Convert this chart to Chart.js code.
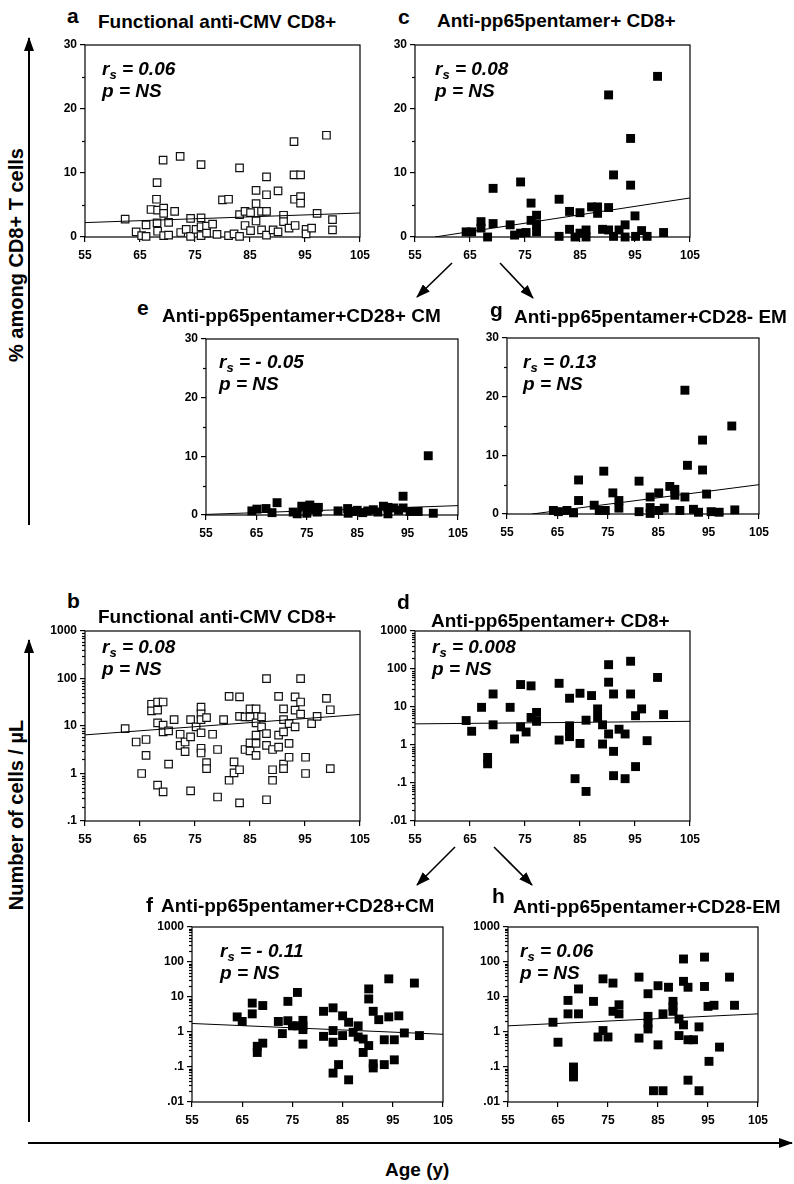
<!DOCTYPE html>
<html lang="en">
<head>
<meta charset="UTF-8">
<title>CMV-specific CD8+ T cells and age</title>
<script src="https://cdn.jsdelivr.net/npm/chart.js"></script>
<style>
  body { margin: 0; background: #fff; }
  #fig { position: relative; width: 794px; height: 1184px; overflow: hidden;
         font-family: "Liberation Sans", Arial, sans-serif; font-weight: bold; color: #000; }
  #fig canvas { position: absolute; }
  .lbl { position: absolute; white-space: nowrap; line-height: 1; }
  .ytitle { position: absolute; white-space: nowrap; line-height: 1; font-size: 20px;
            transform: translate(-50%, -50%) rotate(-90deg); }
  .sub { font-size: 13px; position: relative; top: 4px; }
</style>
</head>
<body>
<div id="fig">
  <svg width="794" height="1184" style="position:absolute;left:0;top:0">
    <defs>
      <marker id="head" markerWidth="14" markerHeight="10" refX="13" refY="5" orient="auto" markerUnits="userSpaceOnUse">
        <path d="M0,0 L14,5 L0,10 z" fill="#000"/>
      </marker>
    </defs>
    <g stroke="#000" fill="none">
      <!-- y arrows -->
      <line x1="29" y1="525" x2="29" y2="38" stroke-width="2" marker-end="url(#head)"/>
      <line x1="29" y1="1122" x2="29" y2="640" stroke-width="2" marker-end="url(#head)"/>
      <!-- x arrow -->
      <line x1="28" y1="1143" x2="792" y2="1143" stroke-width="2" marker-end="url(#head)"/>
      <!-- panel links -->
      <line x1="452" y1="263" x2="417" y2="297" stroke-width="1.6" marker-end="url(#head)"/>
      <line x1="500" y1="263" x2="533" y2="298" stroke-width="1.6" marker-end="url(#head)"/>
      <line x1="455" y1="847" x2="417" y2="885" stroke-width="1.6" marker-end="url(#head)"/>
      <line x1="494" y1="847" x2="532" y2="885" stroke-width="1.6" marker-end="url(#head)"/>
    </g>
  </svg>
  <div class="ytitle" style="left:16px;top:255px">% among CD8+ T cells</div>
  <div class="ytitle" style="left:16px;top:815px">Number of cells / &micro;L</div>
  <div class="lbl" id="agetitle" style="font-size:19px">Age (y)</div>
</div>

<script>
// ---- data ----
const ageTicks = [55, 65, 75, 85, 95, 105];
const pctTicks = [0, 10, 20, 30];
const pctMinor = [5, 15, 25];
const cnt4Ticks = [0.1, 1, 10, 100, 1000];
const cnt4Labels = ['.1', '1', '10', '100', '1000'];
const cnt5Ticks = [0.01, 0.1, 1, 10, 100, 1000];
const cnt5Labels = ['.01', '.1', '1', '10', '100', '1000'];

// a: functional anti-CMV CD8+ (% of CD8+)
const aAge = [62.3,64.3,65.3,66.1,66.1,67.0,68.0,68.1,68.1,68.2,68.2,69.2,69.3,69.3,69.3,70.2,70.2,71.3,72.3,72.4,73.4,74.2,74.2,75.2,76.1,76.1,76.1,76.1,77.1,77.1,78.2,79.0,80.0,81.1,81.1,82.1,83.1,83.1,83.1,84.1,84.1,85.1,85.1,86.1,86.1,86.1,87.1,87.1,88.0,88.0,88.0,88.0,89.2,90.1,90.1,91.1,91.1,92.1,93.0,93.0,94.2,93.1,94.2,94.2,93.2,95.2,95.2,96.2,97.2,98.9,100.0,100.0];
const aPct = [2.8,0.8,0.2,1.9,0.1,4.3,5.9,8.5,2.2,4.2,0.9,12.0,4.5,3.7,0.2,2.3,0.3,4.0,12.6,0.7,1.2,2.9,0.1,1.2,11.3,3.0,1.6,0.2,1.7,0.6,2.0,0.4,5.8,5.9,0.2,0.5,10.8,3.5,0.1,4.0,1.8,3.8,1.0,7.3,5.2,2.5,4.0,1.1,9.4,6.6,4.0,0.3,1.1,7.2,0.8,3.4,2.4,1.4,14.9,9.7,9.7,5.9,6.3,5.3,1.8,1.2,0.5,1.4,3.7,15.9,2.7,1.1];
const aFitAge = [55, 105], aFitPct = [2.25, 3.75];

// c: anti-pp65 pentamer+ CD8+ (%)
const cAge = [64.3,65.3,67.0,67.0,68.2,69.2,69.2,72.3,73.1,74.2,74.2,75.2,76.1,76.1,77.1,77.1,77.1,81.2,81.2,83.1,83.1,84.1,85.0,85.0,86.1,86.1,87.1,88.2,88.2,89.1,90.2,90.2,90.2,91.1,91.1,92.1,93.2,93.2,94.2,94.2,95.0,95.1,96.2,97.2,99.1,100.2];
const cPct = [0.8,0.8,2.4,1.4,0,7.6,2.1,1.9,0.3,8.6,0.6,0.7,5.3,2.6,3.4,2.0,0.8,5.9,0.1,4.0,1.2,0,3.8,0.6,1.1,0,4.7,4.7,3.7,1.2,22.2,4.6,1.1,9.7,0.1,1.1,1.9,0,15.4,8.1,3.3,0.1,1.0,0.1,25.1,0.7];
const cFitAge = [58.6, 105], cFitPct = [0, 6.1];

// e: pentamer+ CD28+ CM (%)
const eAge = [64.1,65.1,66.9,68.1,69.1,72.3,73.1,74.0,75.0,75.6,76.1,77.3,77.1,81.2,83.1,83.2,84.1,85.0,86.1,87.1,88.2,89.1,90.2,91.1,91.1,92.2,93.2,94.1,94.1,95.5,97.1,99.1,100.1];
const ePct = [0.7,1.0,1.1,0.4,2.1,0.5,0.2,1.5,0.3,1.7,0.9,1.3,0.5,0.7,1.1,0.3,0.6,0.8,0.4,0.7,0.9,0.5,1.5,1.3,0.2,1.2,0.8,3.2,1.2,0.6,0.6,10.1,0.3];
const eFitAge = [55, 105], eFitPct = [0.1, 1.6];

// g: pentamer+ CD28- EM (%)
const gAge = [64.2,65.2,66.9,68.2,69.2,69.2,72.3,73.3,74.2,74.5,76.0,77.2,77.2,81.2,81.2,83.4,83.4,83.4,85.1,85.1,86.2,87.3,88.3,88.3,89.3,90.3,90.3,90.8,92.0,93.0,93.8,93.8,94.6,95.5,97.1,99.6,100.2];
const gPct = [0.6,0.4,0.6,0.2,5.8,2.3,1.5,0.6,7.3,0.6,3.6,2.3,1.0,5.6,0.4,2.9,1.1,0.1,3.6,0.6,1.0,4.7,4.2,3.2,0.6,21.1,2.9,8.3,0.8,0.3,12.6,7.5,3.4,0.4,0.3,15.0,0.7];
const gFitAge = [60, 105], gFitPct = [0, 5.0];

// b: functional anti-CMV CD8+ (cells/uL)
const bAge = [62.3,64.3,65.3,66.1,66.1,67.1,67.1,68.2,68.2,68.2,68.2,69.2,69.2,69.2,69.2,70.2,70.2,71.2,72.3,72.3,73.2,73.2,74.2,74.2,74.2,75.2,76.1,76.1,76.1,76.1,76.1,76.1,77.1,77.1,77.1,78.2,79.1,79.1,80.2,81.2,81.2,82.1,82.1,83.1,83.1,83.1,83.1,84.1,84.1,85.0,85.0,85.0,85.0,86.1,86.1,86.1,86.1,86.1,87.1,87.1,88.0,88.0,88.0,88.0,89.1,89.1,89.1,90.2,90.2,90.2,91.1,91.1,91.1,91.1,91.1,92.1,92.1,92.1,93.2,93.2,93.2,94.2,94.2,94.2,95.1,95.1,96.2,97.2,98.9,99.6,99.6];
const bCount = [8.8,4.6,1.0,5.2,2.4,28.7,20.8,32,21.5,11.6,0.57,32,10.4,7.5,0.41,7.9,1.57,13.6,6.7,3.9,4.6,2.9,13.6,5.9,0.43,9.6,25,18,13.6,7.2,3.4,2.7,15,1.7,1.27,6.7,3.2,0.32,13.6,42,0.72,1.76,1.03,41,16,1.2,0.24,15.5,3.2,23,15.5,4.4,3.0,23,11.6,6.4,4.3,2.4,15.5,9.6,99,6.9,3.9,0.28,3.2,1.2,0.72,42,6.4,3.6,23,13.6,7.5,1.57,1.27,11.2,4.3,2.2,41,21.5,9.6,99,32,17.7,2.2,1.0,11.2,16,38,22,1.27];
const bFitAge = [55, 105], bFitCount = [6.5, 17.5];

// d: pentamer+ CD8+ (cells/uL)
const dAge = [64.3,65.3,67.1,68.2,68.2,69.2,69.2,72.3,73.1,74.2,74.2,75.2,76.1,76.1,77.1,77.1,81.2,81.2,83.1,83.1,83.1,83.1,84.1,85.0,85.0,86.1,86.1,87.1,88.2,88.2,89.1,89.1,90.2,90.2,90.2,91.1,91.1,91.1,92.1,93.2,93.2,94.2,94.2,95.1,95.1,96.2,97.2,99.1,100.2];
const dCount = [4.4,2.3,9.8,0.47,0.32,22,3.4,9.8,1.44,39,3.0,2.2,36,5.3,7.2,4.2,42,1.35,17,3.2,2.3,1.66,0.13,23,1.1,4.5,0.06,20,8.9,5.3,3.4,1.06,130,45,1.95,22,0.68,0.156,2.6,1.95,0.13,160,22,5.9,0.27,8.9,1.3,60,6.3];
const dFitAge = [55, 105], dFitCount = [3.6, 4.2];

// f: pentamer+ CD28+ CM (cells/uL)
const fAge = [64,65,67,67,68,68,69.1,69.1,72.2,73,74.1,74.1,75,76,76,77.1,77.1,77.1,77.1,81.2,81.2,83.1,83.1,83.1,83.1,84.2,85,85,86.2,86.2,87.1,88.1,88.1,89.1,89.1,90.2,90.2,90.2,91.1,91.1,91.1,92.2,93.3,93.3,94.2,94.2,95.3,95.3,96.2,97.3,99.3,100.3];
const fCount = [2.7,2.0,6.7,3.3,0.39,0.26,5.7,0.48,2.0,0.9,7.5,2.1,1.5,13.5,1.5,2.15,1.5,1.17,0.45,3.9,0.75,4.9,1.1,0.51,0.067,0.117,2.9,0.79,1.9,0.043,0.98,1.5,0.72,0.63,0.26,17,8.8,0.41,3.9,0.124,0.094,2.25,0.6,0.117,33,2.7,0.6,0.16,2.9,0.94,25,0.79];
const fFitAge = [55, 105], fFitCount = [1.75, 0.86];

// h: pentamer+ CD28- EM (cells/uL)
const hAge = [64,65,67,67,68.1,68.1,68.1,69.1,69.1,72.1,73,74,74,75,76,76,77.2,77.2,81.2,81.2,83,83,83,83,84.1,85,85,86,86,87.1,88,88,88,89.2,89.2,90.1,90.1,90.1,91,91,91,92.1,93.2,93.2,94.3,94.3,95,95.2,96.2,97.3,99.3,100.3];
const hCount = [1.9,0.51,8.0,3.3,0.1,0.07,0.052,17,3.3,7.5,0.72,33,1.1,0.72,25,3.9,6.0,3.3,37,0.67,12.4,2.8,1.8,1.22,0.021,21,0.43,0.021,3.3,19,7.5,5.4,3.9,2.35,0.79,122,28,1.6,19,0.6,0.042,0.6,1.4,0.021,138,20,5.4,0.145,5.8,0.37,37,5.8];
const hFitAge = [55, 105], hFitCount = [1.5, 3.3];

// ---- drawing ----
const fig = document.getElementById('fig');
const tickFont = { family: 'Liberation Sans', size: 12, weight: 'bold' };
const PAD_L = 45, PAD_T = 12, PAD_R = 25, PAD_B = 28;

const frame = {
  id: 'frame',
  beforeDatasetsDraw(chart, args, opts) {
    const { ctx, chartArea: a } = chart;
    const y = chart.scales.y;
    ctx.save();
    ctx.strokeStyle = '#000';
    ctx.lineWidth = 1.2;
    ctx.strokeRect(a.left, a.top, a.right - a.left, a.bottom - a.top);
    (opts.minor || []).forEach(v => {
      const p = Math.round(y.getPixelForValue(v)) + 0.5;
      ctx.beginPath();
      ctx.moveTo(a.left - 3, p);
      ctx.lineTo(a.left, p);
      ctx.stroke();
    });
    ctx.restore();
  }
};

function logMinor(min, max) {
  const out = [];
  for (let d = min; d < max; d *= 10)
    for (let k = 2; k <= 9; k++) out.push(d * k);
  return out;
}

function panel(box, ages, vals, fitX, fitY, kind) {
  const [l, t, r, b] = box;
  const w = r - l + PAD_L + PAD_R, h = b - t + PAD_T + PAD_B;
  const cv = document.createElement('canvas');
  cv.width = w; cv.height = h;
  cv.style.left = (l - PAD_L) + 'px';
  cv.style.top = (t - PAD_T) + 'px';
  cv.style.width = w + 'px';
  cv.style.height = h + 'px';
  fig.appendChild(cv);

  const open = kind.open;
  let yScale, minor;
  if (kind.log) {
    const ticks = kind.log === 5 ? cnt5Ticks : cnt4Ticks;
    const labels = kind.log === 5 ? cnt5Labels : cnt4Labels;
    minor = logMinor(ticks[0], ticks[ticks.length - 1]);
    yScale = {
      type: 'logarithmic', min: ticks[0], max: ticks[ticks.length - 1],
      afterBuildTicks: s => { s.ticks = ticks.map(v => ({ value: v })); },
      ticks: { font: tickFont, color: '#000', padding: 3, autoSkip: false,
               callback: (v, i) => labels[i] }
    };
  } else {
    minor = pctMinor;
    yScale = {
      type: 'linear', min: pctTicks[0], max: pctTicks[pctTicks.length - 1],
      afterBuildTicks: s => { s.ticks = pctTicks.map(v => ({ value: v })); },
      ticks: { font: tickFont, color: '#000', padding: 3, autoSkip: false }
    };
  }
  Object.assign(yScale, {
    grid: { drawOnChartArea: false, color: '#000', lineWidth: 1.2, tickLength: 5 },
    border: { display: false },
    afterFit: s => { s.width = PAD_L; }
  });

  new Chart(cv, {
    type: 'scatter',
    data: {
      datasets: [
        {
          data: fitX.map((x, i) => ({ x, y: fitY[i] })),
          showLine: true, borderColor: '#000', borderWidth: 1, pointRadius: 0
        },
        {
          data: ages.map((x, i) => ({ x, y: vals[i] })),
          pointStyle: 'rect',
          pointRadius: open ? 5.3 : 6.3,
          backgroundColor: open ? '#fff' : '#000',
          borderColor: '#111',
          borderWidth: open ? 1.2 : 0,
          clip: false
        }
      ]
    },
    options: {
      responsive: false, animation: false, events: [],
      layout: { padding: { left: 0, top: PAD_T, right: PAD_R, bottom: 0 } },
      plugins: { legend: { display: false }, tooltip: { enabled: false }, frame: { minor } },
      scales: {
        x: {
          type: 'linear', min: ageTicks[0], max: ageTicks[ageTicks.length - 1],
          afterBuildTicks: s => { s.ticks = ageTicks.map(v => ({ value: v })); },
          ticks: { font: tickFont, color: '#000', padding: 6, maxRotation: 0, autoSkip: false },
          grid: { drawOnChartArea: false, color: '#000', lineWidth: 1.2, tickLength: 5 },
          border: { display: false },
          afterFit: s => { s.height = PAD_B; }
        },
        y: yScale
      }
    },
    plugins: [frame]
  });
}

function text(html, x, base, size, italic) {
  const d = document.createElement('div');
  d.className = 'lbl';
  d.innerHTML = html;
  d.style.fontSize = size + 'px';
  if (italic) d.style.fontStyle = 'italic';
  d.style.left = x + 'px';
  d.style.top = (base - 0.847 * size) + 'px';
  fig.appendChild(d);
}

function head(letter, lx, lb, title, tx, tb) {
  text(letter, lx, lb, 21);
  text(title, tx, tb, 19);
}
function stat(r, x, base) {
  text('r<span class="sub">s</span> = ' + r, x, base, 19, true);
  text('p = NS', x, base + 22, 19, true);
}

panel([85, 45, 360, 237], aAge, aPct, aFitAge, aFitPct, { open: true });
panel([415, 45, 690, 237], cAge, cPct, cFitAge, cFitPct, {});
panel([206, 339, 458, 515], eAge, ePct, eFitAge, eFitPct, {});
panel([507, 338, 759, 514], gAge, gPct, gFitAge, gFitPct, {});
panel([85, 631, 360, 821], bAge, bCount, bFitAge, bFitCount, { open: true, log: 4 });
panel([415, 631, 690, 821], dAge, dCount, dFitAge, dFitCount, { log: 5 });
panel([192, 927, 443, 1102], fAge, fCount, fFitAge, fFitCount, { log: 5 });
panel([508, 927, 758, 1102], hAge, hCount, hFitAge, hFitCount, { log: 5 });

head('a', 67, 23, 'Functional anti-CMV CD8+', 98, 28);
head('c', 398, 24, 'Anti-pp65pentamer+ CD8+', 437, 27);
head('e', 137, 315, 'Anti-pp65pentamer+CD28+ CM', 162, 322);
head('g', 490, 317, 'Anti-pp65pentamer+CD28- EM', 514, 323);
head('b', 67, 608, 'Functional anti-CMV CD8+', 98, 623);
head('d', 397, 609, 'Anti-pp65pentamer+ CD8+', 431, 627);
head('f', 146, 912, 'Anti-pp65pentamer+CD28+CM', 161, 912);
head('h', 492, 903, 'Anti-pp65pentamer+CD28-EM', 513, 913);

stat('0.06', 102, 75);
stat('0.08', 435, 75);
stat('- 0.05', 219, 368);
stat('0.13', 523, 368);
stat('0.08', 102, 653);
stat('0.008', 432, 653);
stat('- 0.11', 220, 957);
stat('0.06', 520, 957);

const at = document.getElementById('agetitle');
at.style.left = (417 - at.offsetWidth / 2) + 'px';
at.style.top = (1176 - 0.847 * 19) + 'px';
</script>
</body>
</html>
